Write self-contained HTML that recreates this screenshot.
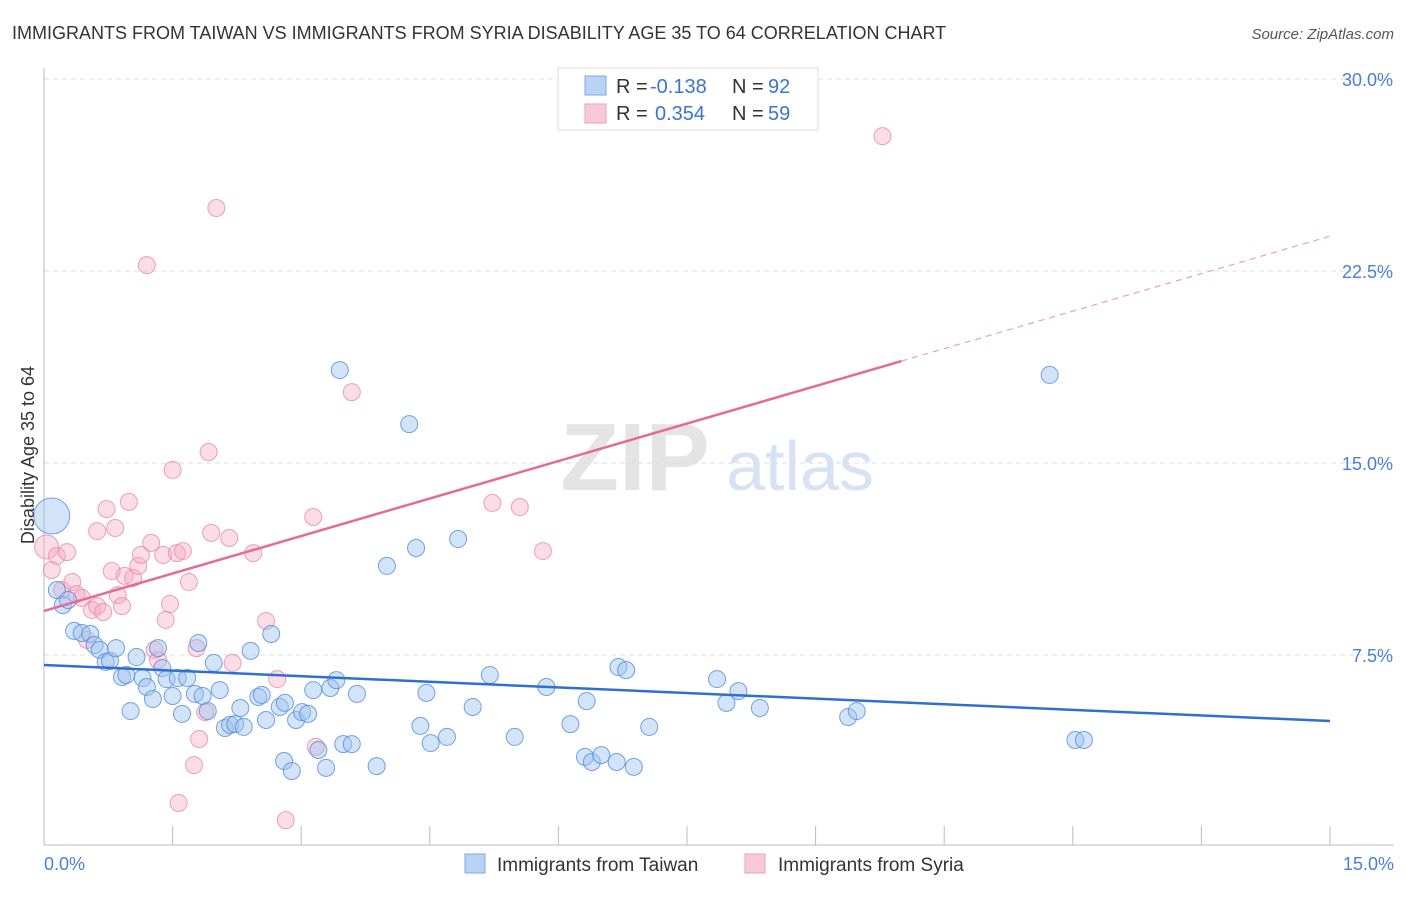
<!DOCTYPE html>
<html><head><meta charset="utf-8">
<style>
body{margin:0;background:#fff;font-family:"Liberation Sans",sans-serif;}
svg text{font-family:"Liberation Sans",sans-serif;}
</style></head>
<body>
<svg id="chart" width="1406" height="892" viewBox="0 0 1406 892">
<text x="12" y="39" font-size="18" fill="#333">IMMIGRANTS FROM TAIWAN VS IMMIGRANTS FROM SYRIA DISABILITY AGE 35 TO 64 CORRELATION CHART</text>
<text x="1394" y="39" font-size="15" fill="#555" font-style="italic" text-anchor="end">Source: ZipAtlas.com</text>
<g>
<text x="635" y="490" font-size="96" fill="#e4e4e4" font-family="Liberation Serif" text-anchor="middle" font-weight="bold">ZIP</text>
<text x="800" y="490" font-size="70" fill="#d6e3f3" text-anchor="middle">atlas</text>
</g>
<g id="grid"></g>
<g id="axes"></g>
<g id="pts"></g>
<g id="trend"></g>
<text transform="translate(34,455) rotate(-90)" font-size="18" fill="#333" text-anchor="middle">Disability Age 35 to 64</text>
<text x="44" y="870" font-size="18" fill="#4a7fd4">0.0%</text>
<text x="1394" y="870" font-size="18" fill="#4a7fd4" text-anchor="end">15.0%</text>
<g>
<rect x="558" y="68" width="260" height="62" fill="#fff" stroke="#ddd"/>
<rect x="585" y="76" width="21" height="19" fill="#b9d3f5" stroke="#7eaae6"/>
<rect x="585" y="104" width="21" height="19" fill="#f8c9d7" stroke="#eba0b8"/>
<text x="616" y="93" font-size="20" fill="#333">R = </text><text x="650" y="93" font-size="20" fill="#3a75d0">-0.138</text>
<text x="732" y="93" font-size="20" fill="#333">N = </text><text x="768" y="93" font-size="20" fill="#3a75d0">92</text>
<text x="616" y="120" font-size="20" fill="#333">R = </text><text x="655" y="120" font-size="20" fill="#3a75d0">0.354</text>
<text x="732" y="120" font-size="20" fill="#333">N = </text><text x="768" y="120" font-size="20" fill="#3a75d0">59</text>
</g>
<g>
<rect x="465" y="854" width="20" height="19" fill="#b9d3f5" stroke="#7eaae6"/>
<text x="497" y="871" font-size="19" fill="#333">Immigrants from Taiwan</text>
<rect x="745" y="854" width="20" height="19" fill="#f8c9d7" stroke="#eba0b8"/>
<text x="778" y="871" font-size="19" fill="#333">Immigrants from Syria</text>
</g>
</svg>
<script>
const yTicks=[7.5,15,22.5,30];
const yTickLabels=["7.5%","15.0%","22.5%","30.0%"];
const xTicks=[0,1.5,3,4.5,6,7.5,9,10.5,12,13.5,15];
const taiwanX=[0.09,0.15,0.22,0.28,0.35,0.44,0.54,0.59,0.65,0.72,0.77,0.84,0.91,0.96,1.01,1.08,1.15,1.20,1.27,1.33,1.38,1.43,1.50,1.56,1.61,1.67,1.76,1.80,1.85,1.91,1.98,2.05,2.11,2.17,2.23,2.33,2.29,2.41,2.50,2.54,2.59,2.65,2.75,2.81,2.80,2.89,2.94,3.01,3.08,3.14,3.20,3.29,3.34,3.41,3.45,3.49,3.59,3.65,3.88,4.00,4.26,4.34,4.39,4.46,4.51,4.70,4.83,5.00,5.20,5.49,5.86,6.14,6.31,6.33,6.39,6.50,6.68,6.70,6.79,6.88,7.06,7.85,7.96,8.10,8.35,9.38,9.48,11.73,12.03,12.13];
const taiwanY=[12.93,10.04,9.45,9.65,8.44,8.36,8.32,7.89,7.70,7.23,7.27,7.77,6.64,6.72,5.31,7.42,6.60,6.25,5.78,7.77,6.99,6.56,5.90,6.60,5.20,6.60,5.98,7.97,5.90,5.31,7.19,6.13,4.65,4.77,4.80,4.69,5.43,7.66,5.86,5.94,4.96,8.32,5.47,5.63,3.36,2.97,4.96,5.27,5.20,6.13,3.79,3.09,6.21,6.52,18.63,4.02,4.02,5.98,3.16,10.98,16.52,11.68,4.73,6.02,4.06,4.30,12.03,5.47,6.72,4.30,6.25,4.80,3.52,5.70,3.32,3.59,3.32,7.03,6.91,3.13,4.69,6.56,5.63,6.09,5.43,5.08,5.31,18.44,4.18,4.18];
const syriaX=[0.03,0.09,0.15,0.21,0.27,0.33,0.38,0.44,0.50,0.56,0.62,0.69,0.62,0.73,0.79,0.83,0.86,0.91,0.94,0.99,1.04,1.10,1.13,1.20,1.25,1.29,1.33,1.39,1.42,1.47,1.50,1.55,1.62,1.69,1.78,1.81,1.75,1.57,1.88,1.92,1.95,2.01,2.16,2.20,2.44,2.59,2.72,2.82,3.14,3.17,3.59,5.23,5.55,5.82,9.78];
const syriaY=[11.72,10.82,11.37,10.04,11.52,10.35,9.88,9.73,8.09,9.26,9.41,9.18,12.34,13.20,10.78,12.46,9.84,9.41,10.59,13.48,10.51,10.98,11.41,22.73,11.88,7.70,7.30,11.41,8.87,9.49,14.73,11.48,11.56,10.35,7.77,4.22,3.20,1.72,5.27,15.43,12.27,24.96,12.07,7.19,11.48,8.83,6.56,1.05,12.89,3.91,17.77,13.44,13.28,11.56,27.77];
const taiwanTrend=[7.11,4.92];
const syriaTrend=[9.22,23.86];
const syriaSolidEnd=10;

const NS="http://www.w3.org/2000/svg";
const X0=44,X1=1330,Y0=847,PXY=25.6;
function sx(v){return X0+(X1-X0)*v/15;}
function sy(v){return Y0-v*PXY;}
function mk(tag,attrs,parent){const e=document.createElementNS(NS,tag);for(const k in attrs)e.setAttribute(k,attrs[k]);parent.appendChild(e);return e;}
const grid=document.getElementById('grid'),axes=document.getElementById('axes'),pts=document.getElementById('pts'),trend=document.getElementById('trend');
yTicks.forEach((t,i)=>{
 const l=mk('line',{x1:44,x2:1394,y1:sy(t),y2:sy(t),stroke:'#ddd','stroke-dasharray':'5,4'},grid);
 
 
 const tx=mk('text',{x:1393,y:sy(t)+7,'font-size':18,fill:'#4a7fd4','text-anchor':'end'},grid);
 tx.textContent=yTickLabels[i];
 
 
});
const ya=mk('line',{x1:44,x2:44,y1:68,y2:845,stroke:'#bbb'},axes);


const xa=mk('line',{x1:44,x2:1394,y1:845,y2:845,stroke:'#bbb'},axes);


xTicks.forEach(t=>{
 const l=mk('line',{x1:sx(t),x2:sx(t),y1:826,y2:845,stroke:'#bbb'},axes);
 
 
});
syriaX.forEach((x,i)=>{
 const c=mk('circle',{cx:sx(x),cy:sy(syriaY[i]),r:i===0?12:8.5,fill:'rgba(244,170,194,0.4)',stroke:'rgba(232,130,165,0.75)','stroke-width':1},pts);
 
 
});
taiwanX.forEach((x,i)=>{
 const c=mk('circle',{cx:sx(x),cy:sy(taiwanY[i]),r:i===0?18:8.5,fill:'rgba(160,196,240,0.45)',stroke:'rgba(80,140,220,0.8)','stroke-width':1},pts);
 
 
});
const bt=mk('line',{x1:sx(0),y1:sy(taiwanTrend[0]),x2:sx(15),y2:sy(taiwanTrend[1]),stroke:'#2e6fd6','stroke-width':2.5},trend);


const ys=syriaTrend[0]+(syriaTrend[1]-syriaTrend[0])*syriaSolidEnd/15;
const pt=mk('line',{x1:sx(0),y1:sy(syriaTrend[0]),x2:sx(syriaSolidEnd),y2:sy(ys),stroke:'#e56b94','stroke-width':2.5},trend);


const pd=mk('line',{x1:sx(syriaSolidEnd),y1:sy(ys),x2:sx(15),y2:sy(syriaTrend[1]),stroke:'#eaa0b8','stroke-width':1.2,'stroke-dasharray':'6,5'},trend);


</script>
</body></html>
